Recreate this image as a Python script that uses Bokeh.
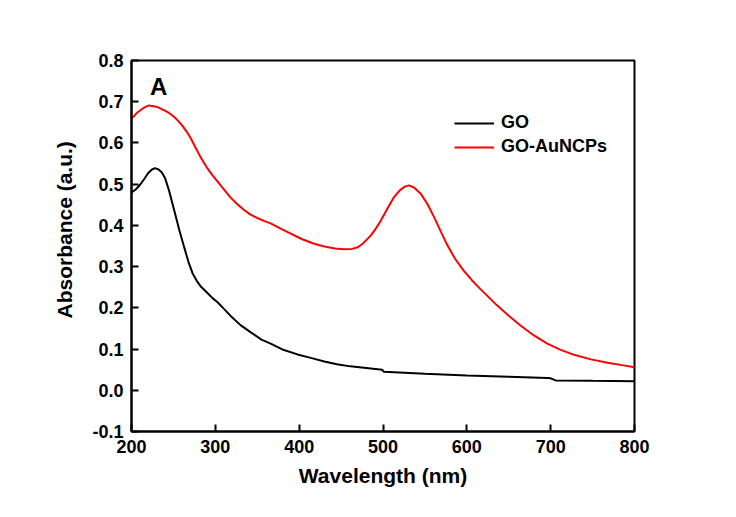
from bokeh.plotting import figure
from bokeh.models import Label, Legend, LegendItem, FixedTicker, PrintfTickFormatter, Range1d, Title
from bokeh.embed import file_html
from bokeh.resources import INLINE

go_wl = [200, 205, 210, 215, 220, 224, 228, 232, 236, 240, 245, 251, 257, 263, 268, 273, 278, 283,
         290, 297, 303, 310, 318, 330, 342, 355, 366, 380, 398, 415, 430, 445, 461, 480, 499, 500,
         501, 550, 600, 650, 696, 700, 706, 750, 800]
go_abs = [0.480, 0.487, 0.498, 0.512, 0.527, 0.535, 0.539, 0.536, 0.529, 0.515, 0.483, 0.436, 0.389,
          0.346, 0.311, 0.283, 0.265, 0.251, 0.237, 0.223, 0.213, 0.198, 0.181, 0.158, 0.141, 0.123,
          0.113, 0.099, 0.087, 0.078, 0.070, 0.063, 0.058, 0.054, 0.050, 0.047, 0.045, 0.040, 0.036,
          0.033, 0.030, 0.029, 0.024, 0.023, 0.022]

au_wl = [200, 203, 207, 211, 216, 221, 226, 231, 236, 241, 246, 251, 256, 261, 266, 271, 276, 281,
         286, 291, 296, 302, 310, 318, 326, 334, 342, 350, 358, 366, 378, 390, 403, 417, 430, 443,
         453, 463, 470, 476, 481, 486, 491, 497, 505, 513, 520, 526, 531, 537, 545, 553, 561, 569,
         577, 586, 596, 606, 616, 626, 636, 650, 664, 680, 696, 712, 728, 748, 768, 785, 800]
au_abs = [0.660, 0.665, 0.674, 0.680, 0.687, 0.691, 0.689, 0.687, 0.682, 0.677, 0.671, 0.663, 0.653,
          0.641, 0.627, 0.610, 0.590, 0.571, 0.553, 0.537, 0.523, 0.508, 0.488, 0.468, 0.452, 0.438,
          0.426, 0.418, 0.411, 0.405, 0.392, 0.380, 0.367, 0.356, 0.349, 0.344, 0.342, 0.343, 0.347,
          0.356, 0.366, 0.377, 0.391, 0.410, 0.440, 0.468, 0.485, 0.494, 0.497, 0.492, 0.477, 0.452,
          0.420, 0.385, 0.351, 0.319, 0.291, 0.267, 0.246, 0.226, 0.206, 0.181, 0.157, 0.133, 0.113,
          0.098, 0.086, 0.075, 0.067, 0.061, 0.056]

x_ticks = [200, 300, 400, 500, 600, 700, 800]
y_ticks = [-0.1, 0.0, 0.1, 0.2, 0.3, 0.4, 0.5, 0.6, 0.7, 0.8]

FONT = "Liberation Sans"

p = figure(width=720, height=500, output_backend="svg", toolbar_location=None,
           x_range=Range1d(200, 800), y_range=Range1d(-0.1, 0.8),
           min_border_left=131, min_border_right=86, min_border_top=60, min_border_bottom=69)
p.grid.visible = False
p.outline_line_color = "black"
p.outline_line_width = 2
p.background_fill_color = "white"
p.border_fill_color = "white"

for ax in (p.xaxis[0], p.yaxis[0]):
    ax.axis_line_width = 2
    ax.major_tick_line_width = 2
    ax.major_tick_in = 7
    ax.major_tick_out = 0
    ax.minor_tick_line_color = None
    ax.major_label_text_font = FONT
    ax.major_label_text_font_style = "bold"
    ax.major_label_text_font_size = "18px"
    ax.major_label_text_color = "black"
    ax.major_label_standoff = 8

p.xaxis.ticker = FixedTicker(ticks=x_ticks)
p.yaxis.ticker = FixedTicker(ticks=y_ticks)
p.yaxis.formatter = PrintfTickFormatter(format="%.1f")
p.xaxis.axis_label = "Wavelength (nm)"
p.xaxis.axis_label_text_font = FONT
p.xaxis.axis_label_text_font_style = "bold"
p.xaxis.axis_label_text_font_size = "21px"
p.xaxis.axis_label_text_color = "black"
p.xaxis.axis_label_standoff = 8

r_go = p.line(go_wl, go_abs, line_color="black", line_width=2)
r_au = p.line(au_wl, au_abs, line_color="red", line_width=2)

legend = Legend(items=[LegendItem(label="GO", renderers=[r_go]),
                       LegendItem(label="GO-AuNCPs", renderers=[r_au])],
                location=(323, 274), padding=0, margin=0, spacing=3,
                glyph_width=40, glyph_height=20, label_height=20, label_standoff=7,
                border_line_color=None, background_fill_alpha=0,
                label_text_font=FONT, label_text_font_style="bold", label_text_font_size="18px",
                label_text_color="black")
p.add_layout(legend)

p.add_layout(Label(x=222.0, y=0.736, text="A", text_font=FONT, text_font_style="bold",
                   text_font_size="24px", text_baseline="alphabetic", text_color="black"))

p.add_layout(Title(text="Absorbance (a.u.)", align="left", offset=113, standoff=27,
                   text_font=FONT, text_font_style="bold", text_font_size="21px",
                   text_color="black"), "left")

open("out.html", "w").write(file_html(p, INLINE))
